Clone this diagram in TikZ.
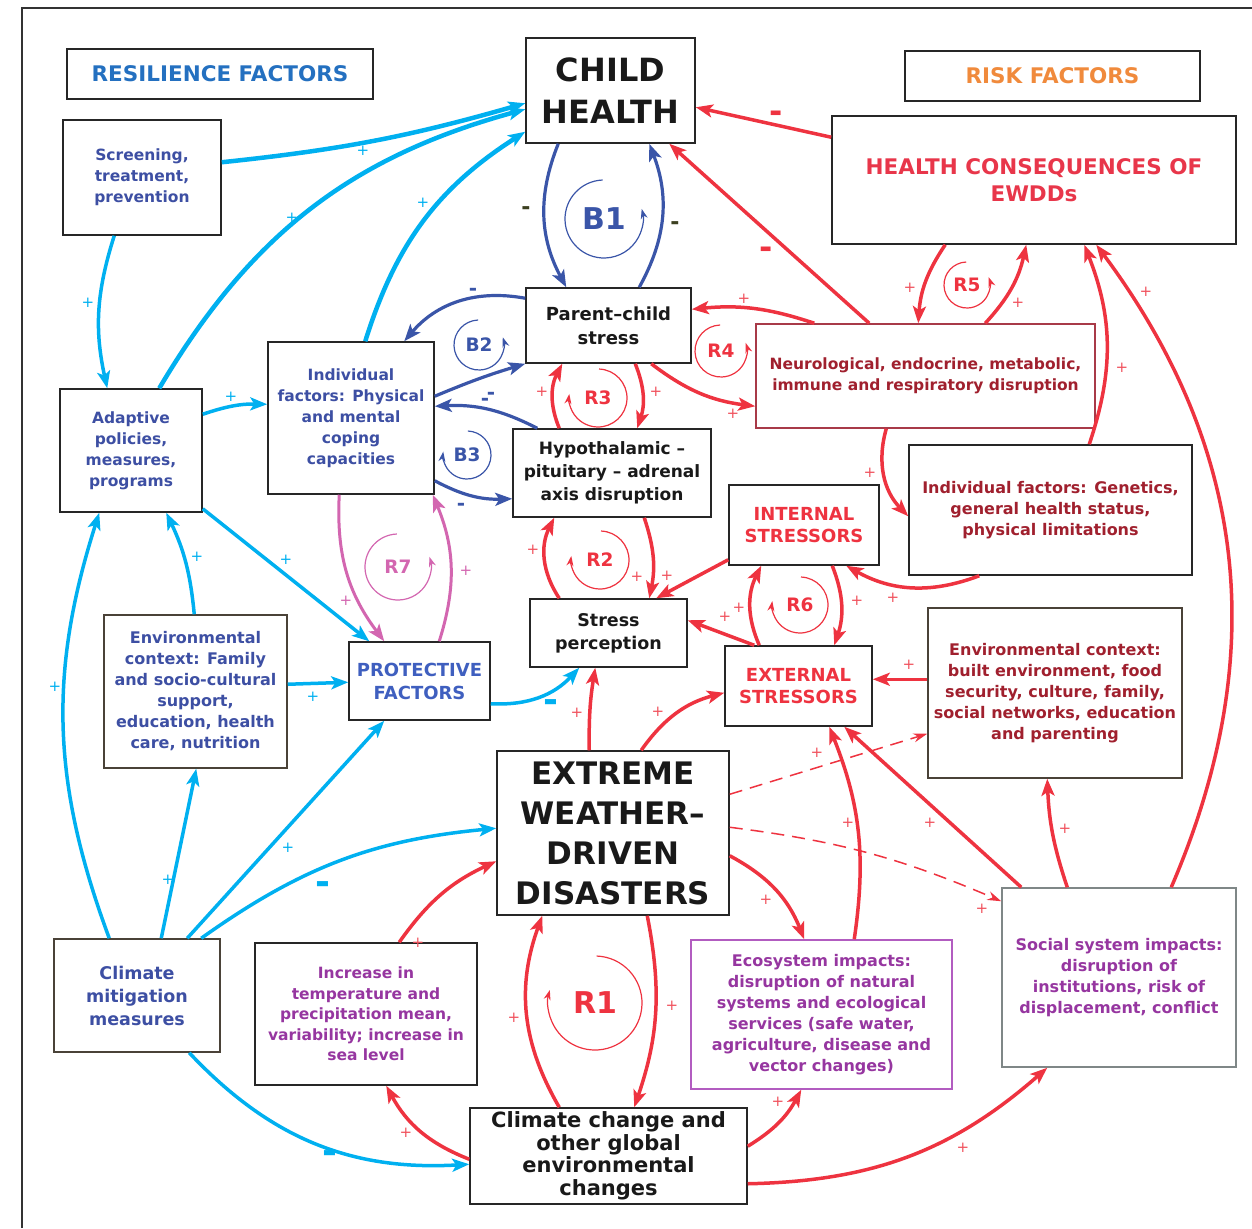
\documentclass[tikz,border=0pt]{standalone}
\usepackage{fontspec}
\setmainfont{DejaVu Sans}
\usetikzlibrary{arrows.meta}

\definecolor{cyanarr}{HTML}{00B0F0}
\definecolor{bluearr}{HTML}{3A55A8}
\definecolor{redarr}{HTML}{EE3340}
\definecolor{magarr}{HTML}{D366B0}
\definecolor{bluetxt}{HTML}{3D4FA3}
\definecolor{headblue}{HTML}{2470C0}
\definecolor{protblue}{HTML}{3F5FBF}
\definecolor{darkred}{HTML}{A0202E}
\definecolor{purptxt}{HTML}{9636A0}
\definecolor{orangetxt}{HTML}{F08A3C}
\definecolor{hctxt}{HTML}{E8364A}
\definecolor{olivetxt}{HTML}{3C4020}
\definecolor{neuedge}{HTML}{A83A48}
\definecolor{brownedge}{HTML}{4A4238}
\definecolor{ecoedge}{HTML}{B25CC0}
\definecolor{grayedge}{HTML}{7F8787}

\newcommand{\taille}[2]{\fontsize{#1}{#2}\selectfont\bfseries}

\tikzset{
  boite/.style={draw=black!85, line width=1.5pt, inner sep=0pt, align=center, text=black!90},
  cyanfl/.style={draw=cyanarr, line width=3.5pt, -{Stealth[length=17pt,width=13pt,inset=4pt]}},
  bluefl/.style={draw=bluearr, line width=3.2pt, -{Stealth[length=17pt,width=13pt,inset=4pt]}},
  redfl/.style={draw=redarr, line width=3.5pt, -{Stealth[length=17pt,width=13pt,inset=4pt]}},
  magfl/.style={draw=magarr, line width=3pt, -{Stealth[length=17pt,width=13pt,inset=4pt]}},
  tiret/.style={draw=redarr, line width=1.5pt, dash pattern=on 13pt off 8pt, -{Stealth[length=14pt,width=9pt]}},
  pluscy/.style={text=cyanarr, inner sep=0pt, font=\fontsize{15}{15}\selectfont},
  plusrg/.style={text=redarr!85, inner sep=0pt, font=\fontsize{15}{15}\selectfont},
  plusmg/.style={text=magarr, inner sep=0pt, font=\fontsize{15}{15}\selectfont},
  moinscy/.style={text=cyanarr, inner sep=0pt, font=\taille{36}{36}},
  moinsrg/.style={text=redarr, inner sep=0pt, font=\taille{32}{32}},
  moinsbl/.style={text=bluearr, inner sep=0pt, font=\taille{20}{20}},
  moinsol/.style={text=olivetxt, inner sep=0pt, font=\taille{22}{22}},
  loopbig/.style={inner sep=0pt, font=\taille{30}{30}},
  loopsmall/.style={inner sep=0pt, font=\taille{18.5}{18.5}}
}

\newcommand{\boite}[7]{
  \node[boite, #6, minimum width={#4-#2}, minimum height={#5-#3}] (#1) at ({(#2+#4)/2},{(#3+#5)/2}) {#7};
}
\newcommand{\boucle}[9]{
  \node[#8, text=#7] (#1) at (#2,#3) {#9};
  \draw[#7, line width=1.2pt, -{Stealth[length=10pt,width=7pt]}]
  ([shift={(#5:#4pt)}]#1.center) arc[start angle=#5, end angle=#6, radius=#4pt];
}

\begin{document}
\begin{tikzpicture}[x=1pt, y=-1pt]

  \useasboundingbox (0,0) rectangle (1252,1228);
  \draw[line width=2pt, black!80] (22,1228) -- (22,8) -- (1252,8);

  % BOXES
  % =====

  \boite{rf}{67}{49}{373}{99}{text=headblue, font=\taille{21.5}{26}}{RESILIENCE FACTORS}
  \boite{ch}{526}{38}{695}{143}{font=\taille{32}{42}}{CHILD\\HEALTH}
  \boite{rk}{905}{51}{1200}{101}{text=orangetxt, font=\taille{21.5}{26}}{RISK FACTORS}
  \boite{hc}{832}{116}{1236}{244}{text=hctxt, font=\taille{21.5}{27}}{HEALTH CONSEQUENCES OF\\EWDDs}

  % Resilience
  % ----------
  \boite{scr}{63}{120}{221}{235}{text=bluetxt, font=\taille{15.5}{21}}{Screening,\\treatment,\\prevention}
  \boite{adp}{60}{389}{202}{512}{text=bluetxt, font=\taille{15.5}{21}}{Adaptive\\policies,\\measures,\\programs}
  \boite{ind}{268}{342}{434}{494}{text=bluetxt, font=\taille{15.5}{21}}{Individual\\factors: Physical\\and mental\\coping\\capacities}
  \boite{envf}{104}{615}{287}{768}{draw=brownedge, text=bluetxt, font=\taille{16}{21}}{Environmental\\context: Family\\and socio-cultural\\support,\\education, health\\care, nutrition}
  \boite{pf}{349}{642}{490}{720}{text=protblue, font=\taille{18}{23}}{PROTECTIVE\\FACTORS}
  \boite{cmm}{54}{939}{220}{1052}{draw=brownedge, text=bluetxt, font=\taille{17.5}{23}}{Climate\\mitigation\\measures}

  % Centre
  % ------
  \boite{pcs}{526}{288}{691}{363}{font=\taille{18}{24}}{Parent–child\\stress}
  \boite{hpa}{513}{429}{711}{517}{font=\taille{17}{23}}{Hypothalamic –\\pituitary – adrenal\\axis disruption}
  \boite{sp}{530}{599}{687}{667}{font=\taille{17.5}{23}}{Stress\\perception}
  \boite{ewd}{497}{751}{729}{915}{font=\taille{31}{40}}{EXTREME\\WEATHER–\\DRIVEN\\DISASTERS}
  \boite{ccg}{470}{1108}{747}{1204}{font=\taille{21}{22.5}}{Climate change and\\other global\\environmental\\changes}
  \boite{itp}{255}{943}{477}{1085}{text=purptxt, font=\taille{15.5}{20.5}}{Increase in\\temperature and\\precipitation mean,\\variability; increase in\\sea level}

  % Risk
  % ----
  \boite{neu}{756}{324}{1095}{428}{draw=neuedge, text=darkred, font=\taille{15.5}{20.5}}{Neurological, endocrine, metabolic,\\immune and respiratory disruption}
  \boite{gen}{909}{445}{1192}{575}{text=darkred, font=\taille{16}{21}}{Individual factors: Genetics,\\general health status,\\physical limitations}
  \boite{ins}{729}{485}{879}{565}{text=redarr, font=\taille{18}{22}}{INTERNAL\\STRESSORS}
  \boite{exs}{725}{646}{872}{726}{text=redarr, font=\taille{18}{22}}{EXTERNAL\\STRESSORS}
  \boite{envb}{928}{608}{1182}{778}{draw=brownedge, text=darkred, font=\taille{16}{21}}{Environmental context:\\built environment, food\\security, culture, family,\\social networks, education\\and parenting}
  \boite{eco}{691}{940}{952}{1089}{draw=ecoedge, text=purptxt, font=\taille{16}{21}}{Ecosystem impacts:\\disruption of natural\\systems and ecological\\services (safe water,\\agriculture, disease and\\vector changes)}
  \boite{soc}{1002}{888}{1236}{1067}{draw=grayedge, text=purptxt, font=\taille{16}{21}}{Social system impacts:\\disruption of\\institutions, risk of\\displacement, conflict}

  % ARROWS
  % ======

  % Resilience (cyan)
  % -----------------
  \draw[cyanfl, line width=4.5pt] ([yshift=-43pt]scr.north east) to[bend right=5] ([yshift=-66pt]ch.north west);
  \draw[cyanfl, line width=4.5pt] ([xshift=100pt]adp.north west) to[bend left=22] ([yshift=-72pt]ch.north west);
  \draw[cyanfl, line width=4.5pt] ([xshift=98pt]ind.north west) to[bend left=20] ([yshift=12pt]ch.south west);
  \draw[cyanfl] ([xshift=52pt]scr.south west) to[bend right=15] ([xshift=48pt]adp.north west);
  \draw[cyanfl] ([yshift=-26pt]adp.north east) to[bend left=10] ([yshift=-63pt]ind.north west);
  \draw[cyanfl] ([yshift=4pt]adp.south east) -- ([xshift=21pt]pf.north west);
  \draw[cyanfl] ([xshift=91pt]envf.north west) to[bend right=10] ([xshift=107pt]adp.south west);
  \draw[cyanfl] ([yshift=-70pt]envf.north east) -- ([yshift=-41pt]pf.north west);
  \draw[cyanfl] ([xshift=56pt]cmm.north west) to[bend left=19] ([xshift=40pt]adp.south west);
  \draw[cyanfl] ([xshift=108pt]cmm.north west) -- ([xshift=93pt]envf.south west);
  \draw[cyanfl] ([xshift=134pt]cmm.north west) -- ([xshift=36pt]pf.south west);
  \draw[cyanfl] ([xshift=148pt]cmm.north west) to[bend left=15] ([yshift=-78pt]ewd.north west);
  \draw[cyanfl] ([xshift=136pt]cmm.south west) to[bend right=25] ([yshift=-57pt]ccg.north west);
  \draw[cyanfl] ([yshift=17pt]pf.south east) to[bend right=25] ([xshift=50pt]sp.south west);

  % Balancing (blue)
  % ----------------
  \draw[bluefl] ([xshift=33pt]ch.south west) to[bend right=25] ([xshift=41pt]pcs.north west);
  \draw[bluefl] ([xshift=114pt]pcs.north west) to[bend right=25] ([xshift=124pt]ch.south west);
  \draw[bluefl] ([yshift=-11pt]pcs.north west) to[bend right=30] ([xshift=137pt]ind.north west);
  \draw[bluefl] ([yshift=-55pt]ind.north east) to[bend left=3] (pcs.south west);
  \draw[bluefl] ([xshift=25pt]hpa.north west) to[bend right=15] ([yshift=-65pt]ind.north east);
  \draw[bluefl] ([yshift=14pt]ind.south east) to[bend right=15] ([yshift=19pt]hpa.south west);

  % Protective (magenta)
  % --------------------
  \draw[magfl] ([xshift=72pt]ind.south west) to[bend right=20] ([xshift=36pt]pf.north west);
  \draw[magfl] ([xshift=91pt]pf.north west) to[bend right=20] ([xshift=-2pt]ind.south east);

  % Risk (red)
  % ----------
  \draw[redfl] ([yshift=-22pt]hc.north west) -- ([yshift=-70pt]ch.north east);
  \draw[redfl] ([xshift=114pt]neu.north west) -- ([xshift=144pt]ch.south west);
  \draw[redfl] ([xshift=59pt]neu.north west) to[bend right=12] ([yshift=-22pt]pcs.north east);
  \draw[redfl] ([xshift=126pt]pcs.south west) to[bend right=15] ([yshift=-83pt]neu.north west);
  \draw[redfl] ([xshift=47pt]hpa.north west) to[bend left=25] ([xshift=37pt]pcs.south west);
  \draw[redfl] ([xshift=110pt]pcs.south west) to[bend left=20] ([xshift=125pt]hpa.north west);
  \draw[redfl] ([xshift=30pt]sp.north west) to[bend left=30] ([xshift=42pt]hpa.south west);
  \draw[redfl] ([xshift=132pt]hpa.south west) to[bend left=15] ([xshift=120pt]sp.north west);
  \draw[redfl] ([yshift=6pt]ins.south west) -- ([xshift=127pt]sp.north west);
  \draw[redfl] ([xshift=30pt]exs.north west) -- ([yshift=-22pt]sp.north east);
  \draw[redfl] ([xshift=35pt]exs.north west) to[bend left=25] ([xshift=33pt]ins.south west);
  \draw[redfl] ([xshift=104pt]ins.south west) to[bend left=20] ([xshift=110pt]exs.north west);
  \draw[redfl] ([xshift=71pt]gen.south west) to[bend left=25] ([xshift=118pt]ins.south west);
  \draw[redfl] ([xshift=131pt]neu.south west) to[bend right=30] ([yshift=-72pt]gen.north west);
  \draw[redfl] ([xshift=114pt]hc.south west) to[bend right=15] ([xshift=163pt]neu.north west);
  \draw[redfl] ([xshift=230pt]neu.north west) to[bend right=15] ([xshift=195pt]hc.south west);
  \draw[redfl] ([xshift=181pt]gen.north west) to[bend right=20] ([xshift=253pt]hc.south west);
  \draw[redfl] ([xshift=170pt]soc.north west) to[bend right=30] ([xshift=265pt]hc.south west);
  \draw[redfl] ([yshift=-72pt]envb.north west) -- ([yshift=-34pt]exs.north east);
  \draw[redfl] ([xshift=66pt]soc.north west) to[bend left=8] ([xshift=120pt]envb.south west);
  \draw[redfl] ([xshift=20pt]soc.north west) -- ([xshift=120pt]exs.south west);
  \draw[redfl] ([xshift=164pt]eco.north west) to[bend right=15] ([xshift=105pt]exs.south west);
  \draw[redfl] ([xshift=93pt]ewd.north west) to[bend left=5] ([xshift=66pt]sp.south west);
  \draw[redfl] ([xshift=145pt]ewd.north west) to[bend left=20] ([yshift=34pt]exs.south west);
  \draw[tiret] ([yshift=-44pt]ewd.north east) -- ([yshift=45pt]envb.south west);
  \draw[tiret] ([yshift=-77pt]ewd.north east) to[bend left=8] ([yshift=-14pt]soc.north west);
  \draw[redfl] ([yshift=60pt]ewd.south east) to[bend left=20] ([xshift=114pt]eco.north west);
  \draw[redfl] ([xshift=90pt]ccg.north west) to[bend left=25] ([xshift=46pt]ewd.south west);
  \draw[redfl] ([xshift=151pt]ewd.south west) to[bend left=15] ([xshift=165pt]ccg.north west);
  \draw[redfl] ([xshift=145pt]itp.north west) to[bend left=15] ([yshift=-111pt]ewd.north west);
  \draw[redfl] ([yshift=-52pt]ccg.north west) to[bend left=20] ([xshift=132pt]itp.south west);
  \draw[redfl] ([yshift=-39pt]ccg.north east) to[bend right=15] ([xshift=111pt]eco.south west);
  \draw[redfl] ([yshift=21pt]ccg.south east) to[bend right=20] ([xshift=46pt]soc.south west);

  % LOOPS
  % =====
  \boucle{b1}{604}{219}{39}{92}{375}{bluearr}{loopbig}{B1}
  \boucle{b2}{479}{345}{25}{92}{378}{bluearr}{loopsmall}{B2}
  \boucle{b3}{467}{455}{24}{88}{-188}{bluearr}{loopsmall}{B3}
  \boucle{r1}{595}{1003}{47}{88}{-196}{redarr}{loopbig}{R1}
  \boucle{r2}{600}{560}{29}{88}{-188}{redarr}{loopsmall}{R2}
  \boucle{r3}{598}{398}{29}{88}{-188}{redarr}{loopsmall}{R3}
  \boucle{r4}{721}{351}{26}{92}{378}{redarr}{loopsmall}{R4}
  \boucle{r5}{967}{285}{23}{92}{380}{redarr}{loopsmall}{R5}
  \boucle{r6}{800}{605}{28}{88}{-188}{redarr}{loopsmall}{R6}
  \boucle{r7}{398}{567}{33}{92}{378}{magarr}{loopsmall}{R7}

  % SIGNS
  % =====
  \foreach \x/\y [count=\i] in {363/151, 292/218, 423/203, 88/303, 231/397, 286/560,
    197/557, 313/697, 55/687, 168/880, 288/848}
  \node[pluscy] (pc\i) at (\x,\y) {+};

  \foreach \x/\y [count=\i] in {542/392, 656/392, 744/299, 733/414, 533/550, 637/577,
    667/576, 725/617, 739/608, 857/601, 893/598, 870/473, 910/288, 1018/303,
    1122/368, 1146/292, 909/665, 1065/829, 930/823, 848/823, 982/909, 817/753,
    577/713, 658/712, 766/900, 514/1018, 672/1006, 418/943, 406/1133, 778/1102, 963/1148}
  \node[plusrg] (pr\i) at (\x,\y) {+};

  \foreach \x/\y [count=\i] in {346/601, 466/571}
  \node[plusmg] (pm\i) at (\x,\y) {+};

  \foreach \x/\y [count=\i] in {323/888, 330/1157, 551/706}
  \node[moinscy] (mc\i) at (\x,\y) {-};

  \foreach \x/\y [count=\i] in {776/117, 766/253}
  \node[moinsrg] (mr\i) at (\x,\y) {-};

  \foreach \x/\y [count=\i] in {473/292, 485/402, 491/396, 461/507}
  \node[moinsbl] (mb\i) at (\x,\y) {-};

  \foreach \x/\y [count=\i] in {526/211, 675/226}
  \node[moinsol] (mo\i) at (\x,\y) {-};

\end{tikzpicture}
\end{document}
